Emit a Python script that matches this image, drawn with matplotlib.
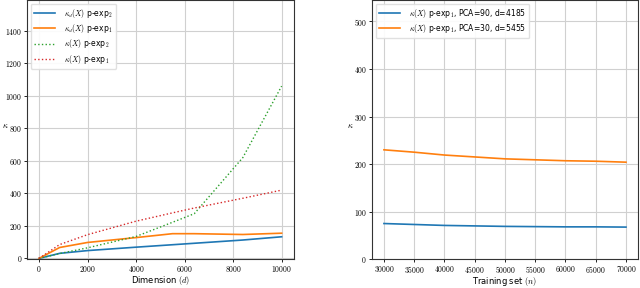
import matplotlib
matplotlib.use("Agg")
import matplotlib.pyplot as plt
from matplotlib.ticker import FuncFormatter

plt.rcParams['mathtext.fontset'] = 'cm'
plt.rcParams['font.family'] = 'DejaVu Sans'

# left panel: condition number vs dimension
dims = [0, 850, 2000, 4000, 5500, 6400, 8400, 10000]
kd_exp2 = [0, 31, 48, 69, 84, 93, 113, 133]
kd_exp1 = [0, 67, 98, 128, 152, 152, 147, 155]
k_exp2 = [0, 30, 65, 135, 222, 275, 620, 1060]
k_exp1 = [0, 85, 146, 229, 280, 310, 370, 420]

# right panel: condition number vs training set size
n_train = [30000, 35000, 40000, 45000, 50000, 55000, 60000, 65000, 70000]
k_pca90 = [75, 73, 71, 70, 69, 68.5, 68, 68, 67.5]
k_pca30 = [230, 225, 219, 215, 211, 209, 207, 206, 204]

left_labels = [r'$\kappa_d(X)$ p-exp$_2$', r'$\kappa_d(X)$ p-exp$_1$',
               r'$\kappa(X)$ p-exp$_2$', r'$\kappa(X)$ p-exp$_1$']
right_labels = [r'$\kappa(X)$ p-exp$_1$, PCA=90, d=4185',
                r'$\kappa(X)$ p-exp$_1$, PCA=30, d=5455']

fig = plt.figure(figsize=(6.4, 2.88), dpi=100)
ax1 = fig.add_axes([0.042, 0.1, 0.417, 0.9])
ax2 = fig.add_axes([0.581, 0.1, 0.416, 0.9])

texfmt = FuncFormatter(lambda v, p: r'$%d$' % v)

ax1.plot(dims, kd_exp2, color='tab:blue', lw=1.2, label=left_labels[0])
ax1.plot(dims, kd_exp1, color='tab:orange', lw=1.2, label=left_labels[1])
ax1.plot(dims, k_exp2, color='tab:green', lw=1.0, ls=':', label=left_labels[2])
ax1.plot(dims, k_exp1, color='tab:red', lw=1.0, ls=':', label=left_labels[3])
ax1.set_xlim(-500, 10500)
ax1.set_ylim(-5, 1590)
ax1.set_xticks(range(0, 10001, 2000))
ax1.set_yticks(range(0, 1401, 200))
ax1.set_xlabel(r'Dimension $(d)$', fontsize=6, labelpad=0)
ax1.set_ylabel(r'$\kappa$', fontsize=6, rotation=0)
ax1.yaxis.set_label_coords(-0.08, 0.5)

ax2.plot(n_train, k_pca90, color='tab:blue', lw=1.2, label=right_labels[0])
ax2.plot(n_train, k_pca30, color='tab:orange', lw=1.2, label=right_labels[1])
ax2.set_xlim(28000, 72000)
ax2.set_ylim(0, 545)
ax2.set_xticks(n_train)
ax2.set_yticks(range(0, 501, 100))
ax2.set_xlabel(r'Training set $(n)$', fontsize=6, labelpad=0)
ax2.set_ylabel(r'$\kappa$', fontsize=6, rotation=0)
ax2.yaxis.set_label_coords(-0.08, 0.5)

for ax in (ax1, ax2):
    ax.grid(True, color='#d0d0d0', lw=0.8)
    ax.set_axisbelow(True)
    ax.xaxis.set_major_formatter(texfmt)
    ax.yaxis.set_major_formatter(texfmt)
    ax.tick_params(labelsize=5.5, length=2, width=0.6, pad=1.5)
    for s in ax.spines.values():
        s.set_color('#333333')
        s.set_linewidth(0.8)
    ax.legend(loc='upper left', fontsize=5.5, frameon=True, framealpha=0.9,
              edgecolor='#dddddd', handlelength=2.8, borderpad=0.4,
              labelspacing=0.3, handletextpad=1.2)

fig.savefig('out.png', dpi=100)
